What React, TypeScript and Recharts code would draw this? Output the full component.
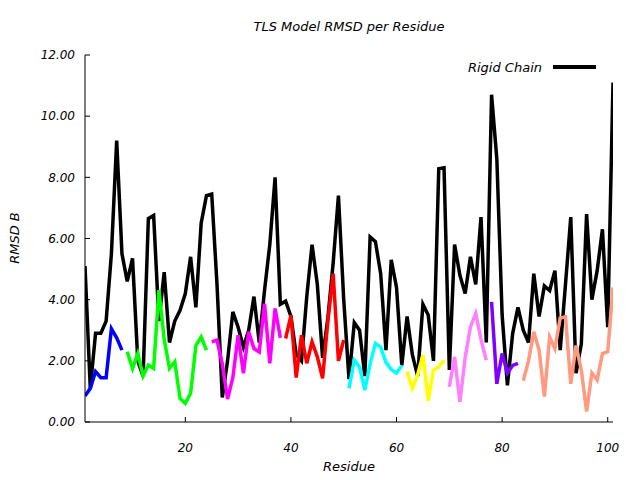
import React from 'react';
import { LineChart, Line, XAxis, YAxis } from 'recharts';

const residues = [
  1, 2, 3, 4, 5, 6, 7, 8, 9, 10, 11, 12, 13, 14, 15, 16, 17, 18, 19, 20,
  21, 22, 23, 24, 25, 26, 27, 28, 29, 30, 31, 32, 33, 34, 35, 36, 37, 38, 39, 40,
  41, 42, 43, 44, 45, 46, 47, 48, 49, 50, 51, 52, 53, 54, 55, 56, 57, 58, 59, 60,
  61, 62, 63, 64, 65, 66, 67, 68, 69, 70, 71, 72, 73, 74, 75, 76, 77, 78, 79, 80,
  81, 82, 83, 84, 85, 86, 87, 88, 89, 90, 91, 92, 93, 94, 95, 96, 97, 98, 99, 100, 101,
];

const rigidChain = [
  5.1, 1.1, 2.9, 2.9, 3.3, 5.5, 9.2, 5.5, 4.6, 5.35,
  2.0, 1.5, 6.65, 6.75, 3.3, 4.9, 2.6, 3.3, 3.65, 4.2,
  5.4, 3.75, 6.5, 7.4, 7.45, 4.5, 0.8, 2.0, 3.6, 3.1,
  2.45, 3.0, 4.1, 2.6, 4.3, 5.8, 8.0, 3.85, 3.95, 3.45,
  2.2, 2.0, 4.1, 5.8, 4.5, 2.1, 3.4, 5.2, 7.4, 4.0,
  1.4, 3.25, 3.0, 1.5, 6.05, 5.9, 4.85, 2.35, 5.3, 4.4,
  1.85, 3.45, 2.2, 1.5, 3.85, 3.5, 2.0, 8.28, 8.31, 1.7,
  5.8, 4.8, 4.2, 5.4, 4.5, 6.7, 2.6, 10.7, 8.6, 3.5,
  1.2, 2.9, 3.75, 3.0, 2.6, 4.85, 3.45, 4.45, 4.3, 4.95,
  2.35, 4.5, 6.7, 1.6, 2.55, 6.8, 4.0, 4.95, 6.3, 3.1,
  11.1,
];

// TLS segments: first residue and values
const seg1Start = 1;
const seg1 = [0.85, 1.1, 1.65, 1.45, 1.45, 3.05, 2.75, 2.35];
const seg2Start = 9;
const seg2 = [2.3, 1.75, 2.24, 1.5, 1.86, 1.75, 4.31, 2.7, 1.75, 1.97, 0.77, 0.61, 0.94, 2.5, 2.78, 2.35];
const seg3Start = 25;
const seg3 = [2.62, 2.68, 1.9, 0.75, 1.45, 2.84, 1.59, 2.95, 2.4, 2.29, 3.87, 1.92, 3.71, 2.75];
const seg4Start = 39;
const seg4 = [2.73, 3.49, 1.45, 2.84, 1.92, 2.62, 2.13, 1.43, 3.3, 4.85, 2.0, 2.68];
const seg5Start = 51;
const seg5 = [1.1, 2.02, 1.8, 1.04, 1.9, 2.57, 2.45, 1.95, 1.72, 1.6, 1.85];
const seg6Start = 62;
const seg6 = [1.65, 1.1, 1.55, 2.19, 0.7, 1.7, 1.8, 2.02];
const seg7Start = 70;
const seg7 = [1.15, 2.13, 0.66, 2.1, 3.11, 3.55, 2.7, 2.02];
const seg8Start = 78;
const seg8 = [3.93, 1.25, 2.24, 1.6, 1.85, 1.92];
const seg9Start = 84;
const seg9 = [1.35, 2.0, 2.95, 2.35, 0.83, 2.78, 2.4, 3.4, 3.44, 1.25, 2.5, 1.7, 0.34, 1.6, 1.37, 2.24, 2.3, 4.4];

const segments = [
  { key: 's1', start: seg1Start, values: seg1, color: '#0000ff' },
  { key: 's2', start: seg2Start, values: seg2, color: '#00ff00' },
  { key: 's3', start: seg3Start, values: seg3, color: '#ff00ff' },
  { key: 's4', start: seg4Start, values: seg4, color: '#ff0000' },
  { key: 's5', start: seg5Start, values: seg5, color: '#00ffff' },
  { key: 's6', start: seg6Start, values: seg6, color: '#ffff00' },
  { key: 's7', start: seg7Start, values: seg7, color: '#ff80ff' },
  { key: 's8', start: seg8Start, values: seg8, color: '#8000ff' },
  { key: 's9', start: seg9Start, values: seg9, color: '#ff9980' },
];

const xTicks = [20, 40, 60, 80, 100];
const yTicks = [0, 2, 4, 6, 8, 10, 12];

const data = residues.map((r, i) => {
  const row: Record<string, number | undefined> = { residue: r, rigid: rigidChain[i] };
  segments.forEach((s) => {
    const idx = r - s.start;
    row[s.key] = idx >= 0 && idx < s.values.length ? s.values[idx] : undefined;
  });
  return row;
});

const FONT = '"DejaVu Sans", sans-serif';
const tickStyle = { fontFamily: FONT, fontSize: 12, fontStyle: 'italic', fill: '#000' };
const LW = 3.5;

export default function App() {
  return (
    <div style={{ position: 'absolute', left: 0, top: 0, width: 640, height: 480, background: '#fff', fontFamily: FONT }}>
      <LineChart width={640} height={480} data={data} margin={{ top: 55, right: 27, left: 0, bottom: 0 }}>
        <XAxis
          dataKey="residue"
          type="number"
          domain={[1, 101]}
          ticks={xTicks}
          allowDataOverflow
          height={58}
          tickSize={-5}
          tickMargin={26}
          tick={tickStyle}
          stroke="#000"
          axisLine={{ stroke: '#000', strokeWidth: 1 }}
        />
        <XAxis
          xAxisId="top"
          orientation="top"
          type="number"
          domain={[1, 101]}
          ticks={xTicks}
          allowDataOverflow
          height={0}
          tickSize={-5}
          tick={false}
          stroke="#000"
        />
        <YAxis
          type="number"
          domain={[0, 12]}
          ticks={yTicks}
          allowDataOverflow
          width={85}
          tickSize={-5}
          tickMargin={15}
          tick={tickStyle}
          tickFormatter={(v: number) => v.toFixed(2)}
          stroke="#000"
        />
        <YAxis
          yAxisId="right"
          orientation="right"
          type="number"
          domain={[0, 12]}
          ticks={yTicks}
          allowDataOverflow
          width={0}
          tickSize={-5}
          tick={false}
          stroke="#000"
        />
        <Line
          type="linear"
          dataKey="rigid"
          stroke="#000"
          strokeWidth={LW}
          dot={false}
          isAnimationActive={false}
        />
        {segments.map((s) => (
          <Line
            key={s.key}
            type="linear"
            dataKey={s.key}
            stroke={s.color}
            strokeWidth={LW}
            dot={false}
            isAnimationActive={false}
          />
        ))}
      </LineChart>
      <div style={{ position: 'absolute', left: 85, width: 528, top: 19, textAlign: 'center', fontSize: 13, fontStyle: 'italic' }}>
        TLS Model RMSD per Residue
      </div>
      <div style={{ position: 'absolute', left: 85, width: 528, top: 459, textAlign: 'center', fontSize: 13, fontStyle: 'italic' }}>
        Residue
      </div>
      <div
        style={{
          position: 'absolute', left: 14, top: 238, fontSize: 13, fontStyle: 'italic', whiteSpace: 'nowrap',
          transform: 'translate(-50%, -50%) rotate(-90deg)',
        }}
      >
        RMSD B
      </div>
      <div style={{ position: 'absolute', left: 400, width: 142, top: 60, textAlign: 'right', fontSize: 13, fontStyle: 'italic' }}>
        Rigid Chain
      </div>
      <div style={{ position: 'absolute', left: 553, top: 65, width: 43, height: 4, background: '#000' }} />
    </div>
  );
}
